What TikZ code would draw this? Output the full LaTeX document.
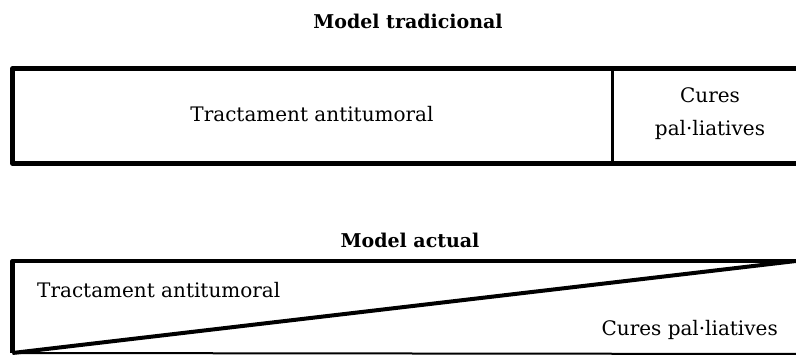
\documentclass[tikz,border=0pt]{standalone}
\usepackage{fontspec}
\setmainfont{DejaVu Serif}
\begin{document}
\begin{tikzpicture}[x=1pt,y=-1pt,
  frame/.style={draw=black,line width=4.2pt,line join=round},
  divider/.style={draw=black,line width=3pt},
  title/.style={font=\fontsize{19}{22}\selectfont\bfseries},
  label/.style={font=\fontsize{20}{33}\selectfont,align=center,inner sep=0pt}]
\useasboundingbox (0,0) rectangle (796,355);
\clip (0,0) rectangle (796,355);
% traditional model
\node[title] (t1) at (408,21) {Model tradicional};
\draw[frame] (810,68.5) coordinate (a2) -- (12.5,68.5) coordinate (a1)
  -- (12.5,163.5) coordinate (a3) -- (810,163.5) coordinate (a4);
\coordinate (d1) at (612,68.5);
\coordinate (d2) at (612,163.5);
\draw[divider] (d1) -- (d2);
\node[label] (ta1) at (312,114) {Tractament antitumoral};
\node[label] (cp1) at (710,114) {Cures\\pal·liatives};
% current model
\node[title] (t2) at (410,240) {Model actual};
\draw[frame] (810,261) -- (12.5,261) coordinate (b1) -- (12.5,353) coordinate (b2);
\draw[draw=black,line width=2pt] (b2) -- (810,354);
\coordinate (b3) at (796,261);
\draw[draw=black,line width=4pt] (b2) -- (b3);
\node[label,anchor=west] (ta2) at (37,290) {Tractament antitumoral};
\node[label,anchor=east] (cp2) at (778,330) {Cures pal·liatives};
\end{tikzpicture}
\end{document}
